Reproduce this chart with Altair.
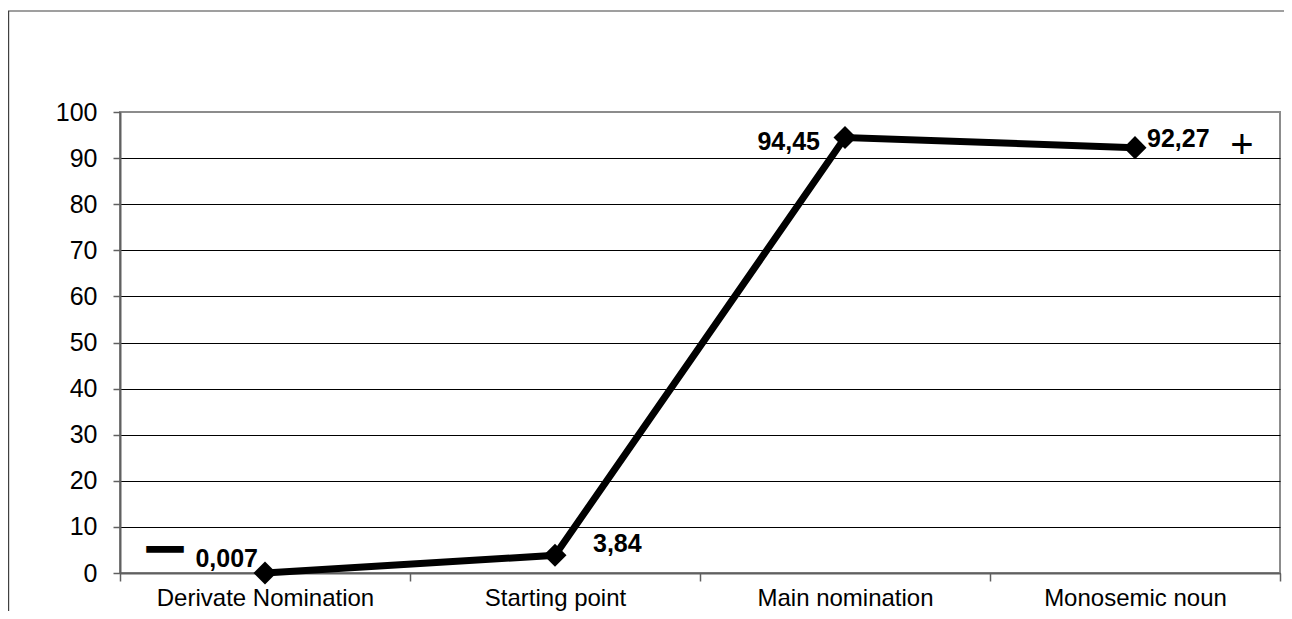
import altair as alt
import pandas as pd

categories = ["Derivate Nomination", "Starting point", "Main nomination", "Monosemic noun"]
values = [0.007, 3.84, 94.45, 92.27]
value_labels = ["0,007", "3,84", "94,45", "92,27"]
y_ticks = [0, 10, 20, 30, 40, 50, 60, 70, 80, 90, 100]

df = pd.DataFrame({"category": categories, "value": values, "label": value_labels})

FONT = "Liberation Sans"
W, H = 1160, 461

x_enc = alt.X(
    "category:N",
    sort=categories,
    bandPosition=0.5,
    scale=alt.Scale(type="band", paddingInner=0, paddingOuter=0),
    axis=alt.Axis(
        title=None, labelAngle=0, tickBand="extent", labelFont=FONT, labelFontSize=24,
        labelColor="#000000", tickColor="#606060", tickSize=8, tickWidth=1.5,
        domainColor="#606060", domainWidth=2, labelPadding=5, labelLimit=0, grid=False,
    ),
)
y_enc = alt.Y(
    "value:Q",
    scale=alt.Scale(domain=[0, 100], nice=False, zero=True),
    axis=alt.Axis(
        title=None, values=y_ticks, labelFont=FONT, labelFontSize=25, labelColor="#000000",
        tickColor="#606060", tickSize=7, tickWidth=1.5, domainColor="#606060", domainWidth=2,
        labelPadding=16,
        gridColor={"condition": {"test": "datum.value === 100", "value": "#8c8c8c"}, "value": "#000000"},
        gridWidth=1,
    ),
)

base = alt.Chart(df)

border = alt.Chart(pd.DataFrame({"a": [0]})).mark_rect(
    fill=None, stroke="#404040", strokeWidth=1.2
).encode(
    x=alt.value(-111.4), x2=alt.value(W + 30), y=alt.value(-101), y2=alt.value(H + 80)
)

line = base.mark_line(color="#000000", strokeWidth=7).encode(x=x_enc, y=y_enc)
points = base.mark_point(shape="diamond", size=530, filled=True, color="#000000", opacity=1).encode(
    x=x_enc, y=y_enc
)

label_styles = [
    dict(align="right", dx=-7, dy=-6),
    dict(align="left", dx=38, dy=-3),
    dict(align="right", dx=-25, dy=12),
    dict(align="left", dx=12, dy=-1),
]
label_layers = []
for cat, st in zip(categories, label_styles):
    label_layers.append(
        base.transform_filter(alt.datum.category == cat)
        .mark_text(font=FONT, fontSize=25, fontWeight="bold", color="#000000",
                   baseline="alphabetic", **st)
        .encode(x=x_enc, y=y_enc, text="label:N")
    )

plus = base.transform_filter(alt.datum.category == categories[3]).mark_text(
    text="+", font=FONT, fontSize=40, color="#000000", baseline="middle", align="center",
    dx=107, dy=-2,
).encode(x=x_enc, y=y_enc)

minus = base.transform_filter(alt.datum.category == categories[0]).mark_text(
    text="—", font=FONT, fontSize=34, fontWeight="bold", color="#000000",
    stroke="#000000", strokeWidth=3.5, baseline="middle", align="center",
    dx=-100, dy=-25,
).encode(x=x_enc, y=y_enc)

chart = alt.layer(border, line, points, *label_layers, plus, minus).properties(
    width=W, height=H,
    autosize=alt.AutoSizeParams(type="none"),
    padding={"left": 112, "top": 104, "right": 4, "bottom": 38},
    background="#ffffff",
).configure_view(stroke="#8c8c8c", strokeWidth=2)

chart.save("out.html", embed_options={"renderer": "svg", "actions": False})
